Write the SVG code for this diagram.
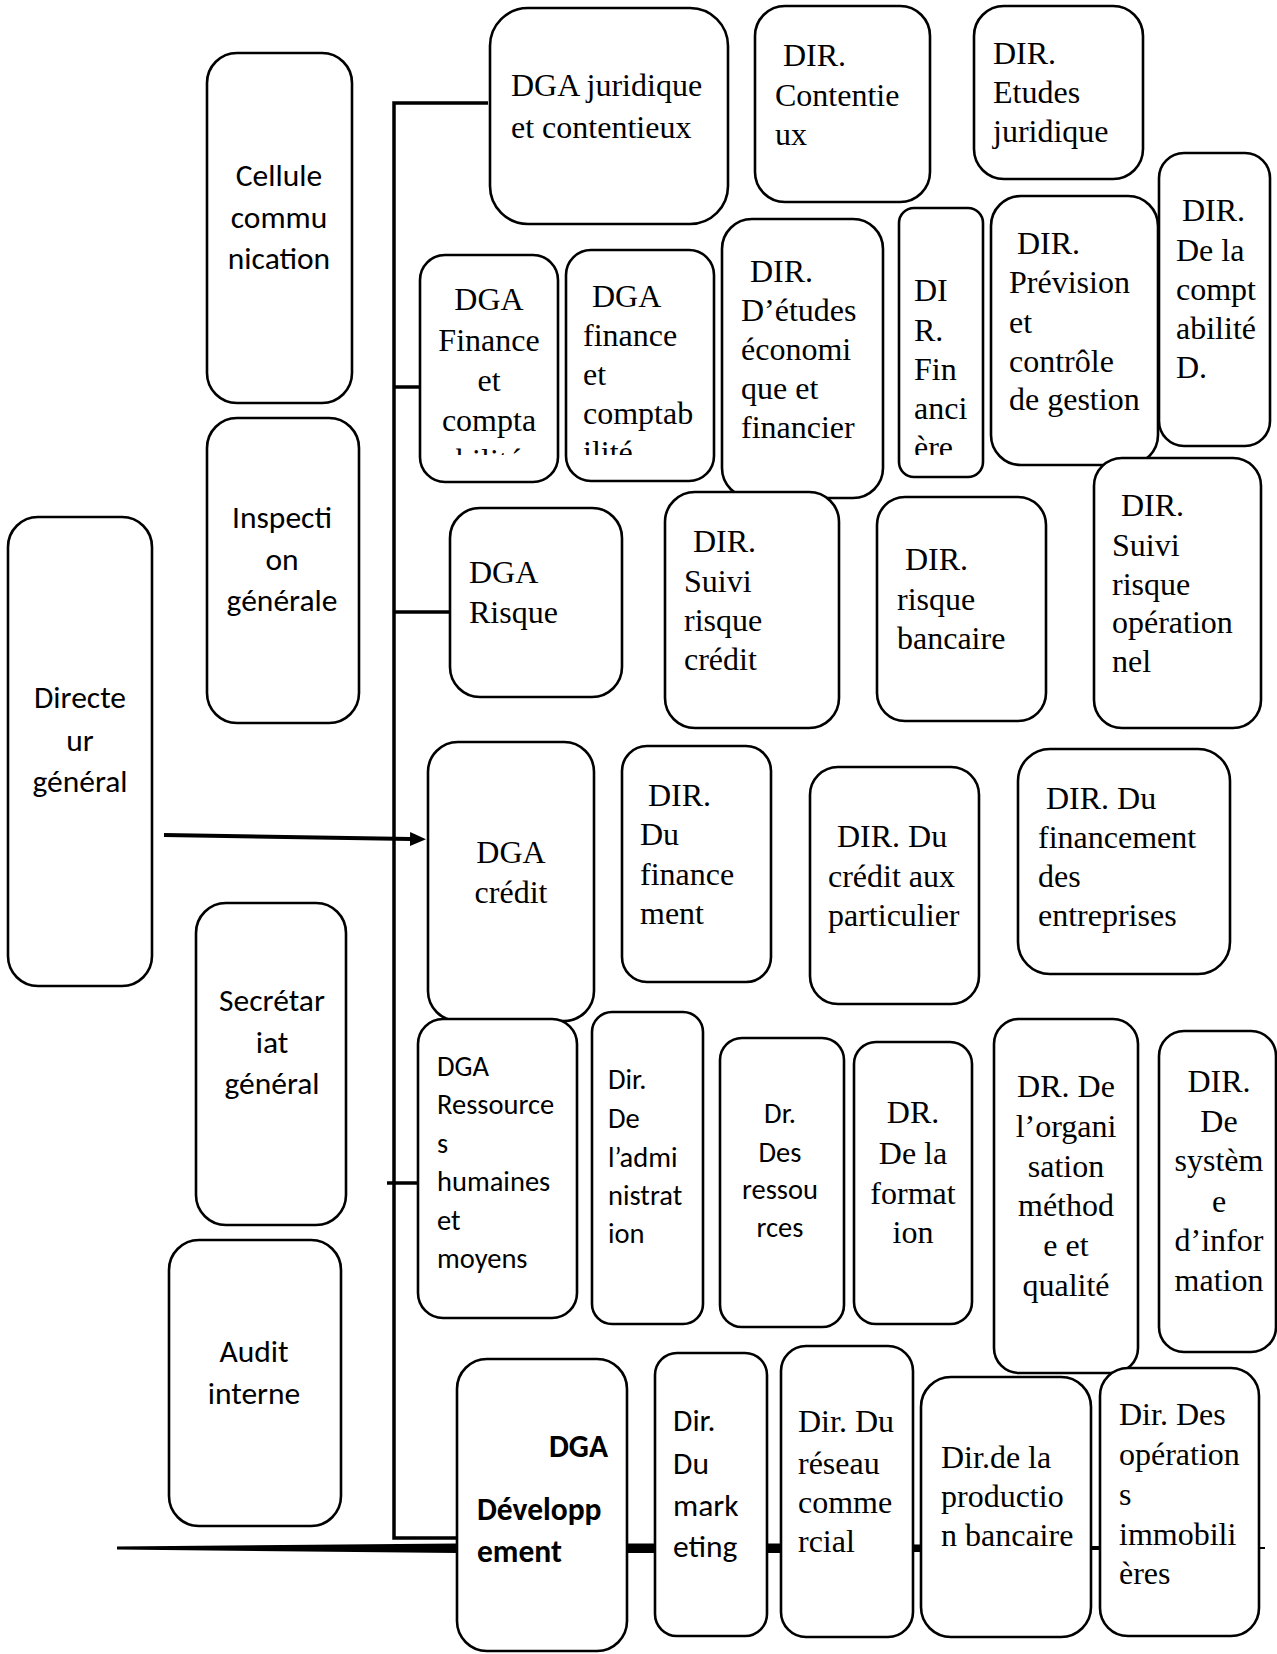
<svg xmlns="http://www.w3.org/2000/svg" width="1277" height="1654" viewBox="0 0 1277 1654">
<style>
.box{fill:#fff;stroke:#000;stroke-width:2.6}
.ln{fill:none;stroke:#000;stroke-width:3.5}
.se{font-family:"Liberation Serif","Times New Roman",serif;font-size:32px;fill:#000}
.sa{font-family:Carlito,Lato,sans-serif;font-size:31.5px;fill:#000}
.sm{font-family:Carlito,Lato,sans-serif;font-size:28.5px;fill:#000}
.bd{font-family:Carlito,Lato,sans-serif;font-size:31.5px;font-weight:bold;fill:#000}
.c{text-anchor:middle}
</style>
<defs>
<marker id="arr" markerUnits="userSpaceOnUse" markerWidth="18" markerHeight="16" refX="1" refY="7" orient="auto">
<path d="M0,0 L16,7 L0,14 Z" fill="#000"/>
</marker>
<clipPath id="clipTop"><rect x="0" y="0" width="1277" height="455"/></clipPath>
</defs>
<rect width="1277" height="1654" fill="#fff"/>
<g id="connectors">
<path class="ln" d="M488 103 H394 V1538 H457"/>
<path class="ln" d="M394 387 H424"/>
<path class="ln" d="M394 612 H450"/>
<path class="ln" d="M387 1183 H418"/>
<path d="M164 835 L411 839" stroke="#000" stroke-width="4" fill="none" marker-end="url(#arr)"/>
<polygon points="117,1546.5 457,1543.5 790,1543.5 920,1544.5 1095,1546 1265,1547 1265,1549 1095,1550 920,1552 790,1553 457,1553 117,1549.5" fill="#000"/>
</g>
<g id="cellule"><rect class="box" x="207" y="53" width="145" height="350" rx="30"/>
<text class="sa c"><tspan x="279" y="186">Cellule</tspan><tspan x="279" y="228">commu</tspan><tspan x="279" y="269">nication</tspan></text></g>
<g id="inspection"><rect class="box" x="207" y="418" width="152" height="305" rx="30"/>
<text class="sa c"><tspan x="282" y="528">Inspecti</tspan><tspan x="282" y="570">on</tspan><tspan x="282" y="611">générale</tspan></text></g>
<g id="directeur"><rect class="box" x="8" y="517" width="144" height="469" rx="30"/>
<text class="sa c"><tspan x="80" y="708">Directe</tspan><tspan x="80" y="751">ur</tspan><tspan x="80" y="792">général</tspan></text></g>
<g id="secretariat"><rect class="box" x="196" y="903" width="150" height="322" rx="30"/>
<text class="sa c"><tspan x="272" y="1011">Secrétar</tspan><tspan x="272" y="1053">iat</tspan><tspan x="272" y="1094">général</tspan></text></g>
<g id="audit"><rect class="box" x="169" y="1240" width="172" height="286" rx="30"/>
<text class="sa c"><tspan x="254" y="1362">Audit</tspan><tspan x="254" y="1404">interne</tspan></text></g>
<g id="dga-juridique"><rect class="box" x="490" y="8" width="238" height="216" rx="38"/>
<text class="se"><tspan x="511" y="96">DGA juridique</tspan><tspan x="511" y="138">et contentieux</tspan></text></g>
<g id="dir-contentieux"><rect class="box" x="755" y="6" width="175" height="196" rx="30"/>
<text class="se"><tspan x="783" y="66">DIR.</tspan><tspan x="775" y="106">Contentie</tspan><tspan x="775" y="145">ux</tspan></text></g>
<g id="dir-etudes"><rect class="box" x="974" y="6" width="169" height="173" rx="30"/>
<text class="se"><tspan x="993" y="64">DIR.</tspan><tspan x="993" y="103">Etudes</tspan><tspan x="993" y="142">juridique</tspan></text></g>
<g id="dir-comptabilite"><rect class="box" x="1159" y="153" width="111" height="293" rx="25"/>
<text class="se"><tspan x="1182" y="221">DIR.</tspan><tspan x="1176" y="261">De la</tspan><tspan x="1176" y="300">compt</tspan><tspan x="1176" y="339">abilité</tspan><tspan x="1176" y="378">D.</tspan></text></g>
<g id="dga-finance1"><rect class="box" x="420" y="255" width="138" height="227" rx="25"/>
<text class="se c" clip-path="url(#clipTop)"><tspan x="489" y="310">DGA</tspan><tspan x="489" y="351">Finance</tspan><tspan x="489" y="391">et</tspan><tspan x="489" y="431">compta</tspan><tspan x="489" y="471">bilité</tspan></text></g>
<g id="dga-finance2"><rect class="box" x="566" y="250" width="148" height="231" rx="25"/>
<text class="se" clip-path="url(#clipTop)"><tspan x="592" y="307">DGA</tspan><tspan x="583" y="346">finance</tspan><tspan x="583" y="385">et</tspan><tspan x="583" y="424">comptab</tspan><tspan x="583" y="463">ilité</tspan></text></g>
<g id="dir-etudes-eco"><rect class="box" x="722" y="219" width="161" height="279" rx="30"/>
<text class="se"><tspan x="750" y="282">DIR.</tspan><tspan x="741" y="321">D’études</tspan><tspan x="741" y="360">économi</tspan><tspan x="741" y="399">que et</tspan><tspan x="741" y="438">financier</tspan></text></g>
<g id="dir-financiere"><rect class="box" x="899" y="208" width="84" height="269" rx="15"/>
<text class="se" clip-path="url(#clipTop)"><tspan x="914" y="301">DI</tspan><tspan x="914" y="341">R.</tspan><tspan x="914" y="380">Fin</tspan><tspan x="914" y="419">anci</tspan><tspan x="914" y="458">ère</tspan></text></g>
<g id="dir-prevision"><rect class="box" x="991" y="196" width="167" height="269" rx="30"/>
<text class="se"><tspan x="1017" y="254">DIR.</tspan><tspan x="1009" y="293">Prévision</tspan><tspan x="1009" y="333">et</tspan><tspan x="1009" y="372">contrôle</tspan><tspan x="1009" y="410">de gestion</tspan></text></g>
<g id="dga-risque"><rect class="box" x="450" y="508" width="172" height="189" rx="30"/>
<text class="se"><tspan x="469" y="583">DGA</tspan><tspan x="469" y="623">Risque</tspan></text></g>
<g id="dir-suivi-credit"><rect class="box" x="665" y="492" width="174" height="236" rx="30"/>
<text class="se"><tspan x="693" y="552">DIR.</tspan><tspan x="684" y="592">Suivi</tspan><tspan x="684" y="631">risque</tspan><tspan x="684" y="670">crédit</tspan></text></g>
<g id="dir-risque-bancaire"><rect class="box" x="877" y="497" width="169" height="224" rx="28"/>
<text class="se"><tspan x="905" y="570">DIR.</tspan><tspan x="897" y="610">risque</tspan><tspan x="897" y="649">bancaire</tspan></text></g>
<g id="dir-suivi-oper"><rect class="box" x="1094" y="458" width="167" height="270" rx="28"/>
<text class="se"><tspan x="1121" y="516">DIR.</tspan><tspan x="1112" y="556">Suivi</tspan><tspan x="1112" y="595">risque</tspan><tspan x="1112" y="633">opération</tspan><tspan x="1112" y="672">nel</tspan></text></g>
<g id="dga-credit"><rect class="box" x="428" y="742" width="166" height="279" rx="30"/>
<text class="se c"><tspan x="511" y="863">DGA</tspan><tspan x="511" y="903">crédit</tspan></text></g>
<g id="dir-financement"><rect class="box" x="622" y="746" width="149" height="236" rx="25"/>
<text class="se"><tspan x="648" y="806">DIR.</tspan><tspan x="640" y="845">Du</tspan><tspan x="640" y="885">finance</tspan><tspan x="640" y="924">ment</tspan></text></g>
<g id="dir-credit-part"><rect class="box" x="810" y="767" width="169" height="237" rx="28"/>
<text class="se"><tspan x="837" y="847">DIR. Du</tspan><tspan x="828" y="887">crédit aux</tspan><tspan x="828" y="926">particulier</tspan></text></g>
<g id="dir-fin-entreprises"><rect class="box" x="1018" y="749" width="212" height="225" rx="32"/>
<text class="se"><tspan x="1046" y="809">DIR. Du</tspan><tspan x="1038" y="848">financement</tspan><tspan x="1038" y="887">des</tspan><tspan x="1038" y="926">entreprises</tspan></text></g>
<g id="dga-rh"><rect class="box" x="418" y="1019" width="159" height="299" rx="25"/>
<text class="sm"><tspan x="437" y="1076">DGA</tspan><tspan x="437" y="1114">Ressource</tspan><tspan x="437" y="1153">s</tspan><tspan x="437" y="1191">humaines</tspan><tspan x="437" y="1230">et</tspan><tspan x="437" y="1268">moyens</tspan></text></g>
<g id="dir-administration"><rect class="box" x="592" y="1012" width="111" height="312" rx="20"/>
<text class="sm"><tspan x="608" y="1089">Dir.</tspan><tspan x="608" y="1128">De</tspan><tspan x="608" y="1167">l’admi</tspan><tspan x="608" y="1205">nistrat</tspan><tspan x="608" y="1243">ion</tspan></text></g>
<g id="dr-ressources"><rect class="box" x="720" y="1038" width="124" height="289" rx="22"/>
<text class="sm c"><tspan x="780" y="1123">Dr.</tspan><tspan x="780" y="1162">Des</tspan><tspan x="780" y="1199">ressou</tspan><tspan x="780" y="1237">rces</tspan></text></g>
<g id="dr-formation"><rect class="box" x="854" y="1042" width="118" height="282" rx="22"/>
<text class="se c"><tspan x="913" y="1123">DR.</tspan><tspan x="913" y="1164">De la</tspan><tspan x="913" y="1204">format</tspan><tspan x="913" y="1243">ion</tspan></text></g>
<g id="dr-organisation"><rect class="box" x="994" y="1019" width="144" height="354" rx="25"/>
<text class="se c"><tspan x="1066" y="1097">DR. De</tspan><tspan x="1066" y="1137">l’organi</tspan><tspan x="1066" y="1177">sation</tspan><tspan x="1066" y="1216">méthod</tspan><tspan x="1066" y="1256">e et</tspan><tspan x="1066" y="1296">qualité</tspan></text></g>
<g id="dir-systeme"><rect class="box" x="1159" y="1031" width="117" height="321" rx="25"/>
<text class="se c"><tspan x="1219" y="1092">DIR.</tspan><tspan x="1219" y="1132">De</tspan><tspan x="1219" y="1171">systèm</tspan><tspan x="1219" y="1212">e</tspan><tspan x="1219" y="1251">d’infor</tspan><tspan x="1219" y="1291">mation</tspan></text></g>
<g id="dga-developpement"><rect class="box" x="457" y="1359" width="170" height="292" rx="30"/>
<text class="bd"><tspan x="608" y="1457" text-anchor="end">DGA</tspan><tspan x="477" y="1520">Développ</tspan><tspan x="477" y="1562">ement</tspan></text></g>
<g id="dir-marketing"><rect class="box" x="655" y="1353" width="112" height="283" rx="22"/>
<text class="sa"><tspan x="673" y="1431">Dir.</tspan><tspan x="673" y="1474">Du</tspan><tspan x="673" y="1516">mark</tspan><tspan x="673" y="1557">eting</tspan></text></g>
<g id="dir-reseau"><rect class="box" x="781" y="1346" width="132" height="291" rx="25"/>
<text class="se"><tspan x="798" y="1432">Dir. Du</tspan><tspan x="798" y="1474">réseau</tspan><tspan x="798" y="1513">comme</tspan><tspan x="798" y="1552">rcial</tspan></text></g>
<g id="dir-production"><rect class="box" x="921" y="1377" width="170" height="260" rx="30"/>
<text class="se"><tspan x="941" y="1468">Dir.de la</tspan><tspan x="941" y="1507">productio</tspan><tspan x="941" y="1546">n bancaire</tspan></text></g>
<g id="dir-operations"><rect class="box" x="1100" y="1368" width="159" height="268" rx="28"/>
<text class="se"><tspan x="1119" y="1425">Dir. Des</tspan><tspan x="1119" y="1465">opération</tspan><tspan x="1119" y="1505">s</tspan><tspan x="1119" y="1545">immobili</tspan><tspan x="1119" y="1584">ères</tspan></text></g>
</svg>
